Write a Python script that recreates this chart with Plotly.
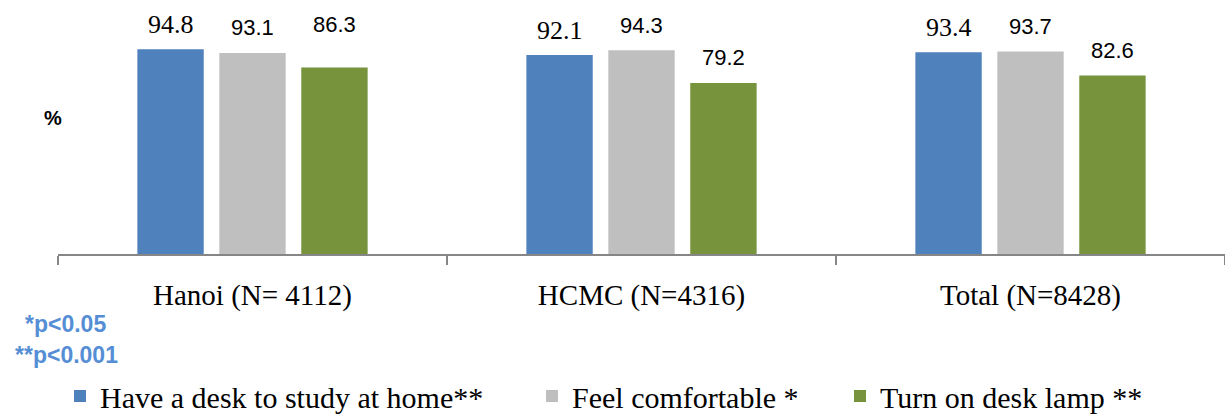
import plotly.graph_objects as go

# ---- data ----
categories = ["Hanoi (N= 4112)", "HCMC (N=4316)", "Total (N=8428)"]
series_names = ["Have a desk to study at home**", "Feel comfortable *", "Turn on desk lamp **"]
desk = [94.8, 92.1, 93.4]
comfortable = [93.1, 94.3, 93.7]
lamp = [86.3, 79.2, 82.6]

series_values = [desk, comfortable, lamp]
colors = ["#4F81BD", "#BFBFBF", "#77933C"]
label_fonts = [
    dict(family="Liberation Serif", size=26, color="#000000"),
    dict(family="Liberation Sans", size=22, color="#000000"),
    dict(family="Liberation Sans", size=22, color="#000000"),
]

W, H = 1225, 418
ML, MR, MT, MB = 58, 0, 38, 164
BARGAP = 0.368
BARGROUPGAP = 0.19

pw = W - ML - MR
ph = H - MT - MB
def px(xp):
    return (xp - ML) / pw
def py(yp):
    return (H - MB - yp) / ph

legend_ids = ["legend", "legend2", "legend3"]
legend_text_x = [100, 572, 880]

fig = go.Figure()
for name, vals, col, lid in zip(series_names, series_values, colors, legend_ids):
    fig.add_trace(go.Bar(
        x=categories, y=vals, name=name,
        marker=dict(color=col, line=dict(width=0)),
        legend=lid,
    ))

# data labels as annotations (placed above each bar)
n = len(series_values)
slot = (1 - BARGAP) / n
annotations = []
for j, vals in enumerate(series_values):
    for i, v in enumerate(vals):
        shift = 25
        if j == 2 and i == 0:
            shift = 43
        annotations.append(dict(
            x=i + (j - (n - 1) / 2) * slot, y=v, xref="x", yref="y",
            text=f"{v:.1f}", showarrow=False, yshift=shift,
            xanchor="center", yanchor="middle", font=label_fonts[j],
        ))

annotations.append(dict(
    x=px(53), y=py(118), xref="paper", yref="paper", text="<b>%</b>",
    showarrow=False, xanchor="center", yanchor="middle",
    font=dict(family="Liberation Sans", size=20, color="#000000"),
))
annotations.append(dict(
    x=px(65), y=py(324), xref="paper", yref="paper", text="<b>*p<0.05</b>",
    showarrow=False, xanchor="center", yanchor="middle",
    font=dict(family="Liberation Sans", size=23, color="#558ED5"),
))
annotations.append(dict(
    x=px(66), y=py(355), xref="paper", yref="paper", text="<b>**p<0.001</b>",
    showarrow=False, xanchor="center", yanchor="middle",
    font=dict(family="Liberation Sans", size=23, color="#558ED5"),
))

legend_common = dict(
    orientation="h", yanchor="middle", xanchor="left",
    xref="container", yref="container",
    font=dict(family="Liberation Serif", size=30, color="#000000"),
    bgcolor="rgba(0,0,0,0)", borderwidth=0,
)
legend_layout = {}
for lid, tx in zip(legend_ids, legend_text_x):
    legend_layout[lid] = dict(legend_common, x=(tx - 40) / W, y=1 - 396 / H)

fig.update_layout(
    width=W, height=H,
    margin=dict(l=ML, r=MR, t=MT, b=MB, pad=0, autoexpand=False),
    paper_bgcolor="white", plot_bgcolor="white",
    barmode="group", bargap=BARGAP, bargroupgap=BARGROUPGAP,
    showlegend=True,
    annotations=annotations,
    xaxis=dict(
        showline=True, linecolor="#868686", linewidth=2,
        ticks="outside", tickson="boundaries", ticklen=9,
        tickcolor="#868686", tickwidth=2,
        showgrid=False, zeroline=False, automargin=False,
        ticklabelstandoff=14,
        tickfont=dict(family="Liberation Serif", size=29, color="#000000"),
    ),
    yaxis=dict(
        range=[0, 100], visible=False, showgrid=False, zeroline=False,
        automargin=False,
    ),
    **legend_layout,
)

fig.write_html("out.html")
